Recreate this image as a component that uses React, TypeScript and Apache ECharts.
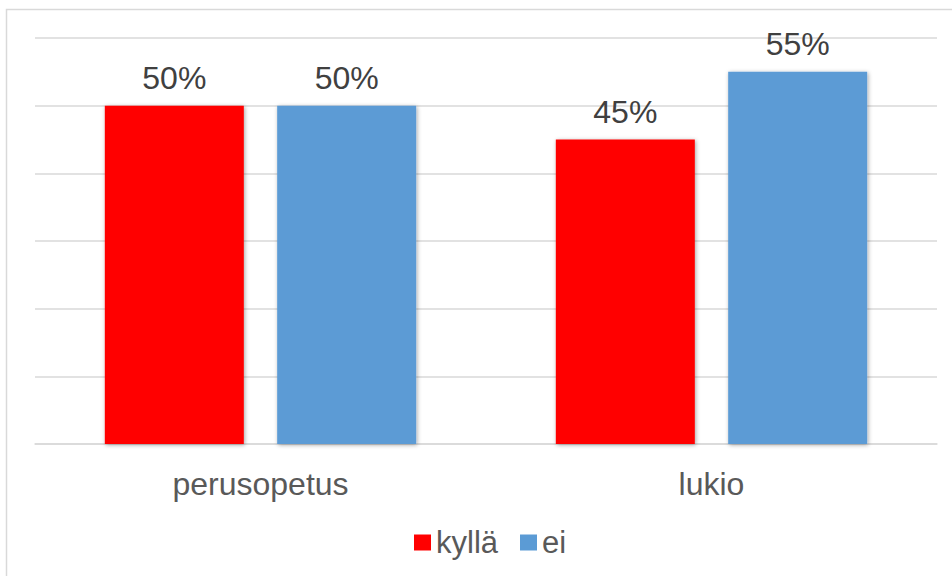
import React, { useEffect, useRef } from "react";
import * as echarts from "echarts";

const categories = ["perusopetus", "lukio"];
const kyllaValues = [50, 45];
const eiValues = [50, 55];
const seriesNames = ["kyllä", "ei"];

export default function App() {
  const ref = useRef<HTMLDivElement>(null);
  useEffect(() => {
    if (!ref.current) return;
    const chart = echarts.init(ref.current, null, { renderer: "svg" });
    const font = "'Liberation Sans', Arial, sans-serif";
    const barStyle = (color: string) => ({
      color,
      shadowBlur: 4,
      shadowColor: "rgba(0,0,0,0.35)",
      shadowOffsetX: 1,
      shadowOffsetY: 1,
    });
    const label = {
      show: true,
      position: "top" as const,
      distance: 12,
      formatter: "{c}%",
      fontFamily: font,
      fontSize: 32,
      color: "#404040",
    };
    chart.setOption({
      animation: false,
      backgroundColor: "#ffffff",
      graphic: [
        {
          type: "rect",
          shape: { x: 6.5, y: 9.5, width: 1000, height: 1000 },
          style: { fill: "none", stroke: "#d9d9d9", lineWidth: 1.5 },
          silent: true,
        },
      ],
      grid: { left: 35, right: 15, top: 38, bottom: 132 },
      legend: {
        bottom: 13,
        left: 409,
        itemWidth: 17,
        itemHeight: 16,
        itemGap: 22,
        icon: "rect",
        textStyle: { fontFamily: font, fontSize: 31, color: "#595959" },
        data: seriesNames,
      },
      xAxis: {
        type: "category",
        data: categories,
        axisLine: { lineStyle: { color: "#d9d9d9", width: 1.5 } },
        axisTick: { show: false },
        axisLabel: { fontFamily: font, fontSize: 32, color: "#595959", margin: 24 },
      },
      yAxis: {
        type: "value",
        min: 0,
        max: 60,
        interval: 10,
        axisLabel: { show: false },
        axisLine: { show: false },
        axisTick: { show: false },
        splitLine: { lineStyle: { color: "#d9d9d9", width: 1.5 } },
      },
      series: [
        {
          name: seriesNames[0],
          type: "bar",
          data: kyllaValues,
          barWidth: 139,
          barGap: "24%",
          itemStyle: barStyle("#ff0000"),
          label,
        },
        {
          name: seriesNames[1],
          type: "bar",
          data: eiValues,
          barWidth: 139,
          barGap: "24%",
          itemStyle: barStyle("#5b9bd5"),
          label,
        },
      ],
    });
    return () => chart.dispose();
  }, []);
  return (
    <div
      ref={ref}
      style={{ position: "fixed", left: 0, top: 0, width: 952, height: 576 }}
    />
  );
}
